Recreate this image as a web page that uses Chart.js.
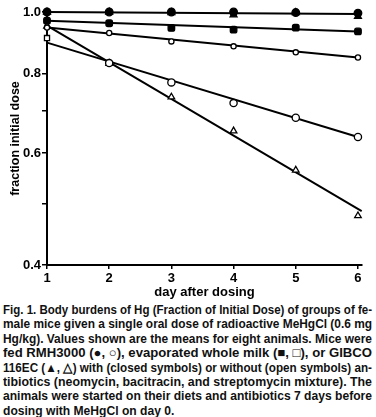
<!DOCTYPE html>
<html>
<head>
<meta charset="utf-8">
<script src="https://cdn.jsdelivr.net/npm/chart.js@4.4.0/dist/chart.umd.min.js"></script>
<style>
  body { margin: 0; background: #fff; width: 376px; height: 417px; overflow: hidden; }
  #wrap { position: relative; width: 376px; height: 300px; }
  #caption {
    position: absolute; left: 3px; top: 303px; width: 369px;
    font: bold 12.5px "Liberation Sans", Arial, sans-serif;
    line-height: 14.4px; color: #111;
  }
  #caption span { display: inline-block; white-space: nowrap; transform-origin: 0 0; }
  #caption div { height: 14.4px; }
</style>
</head>
<body>
<div id="wrap"><canvas id="chart"></canvas></div>
<div id="caption">
  <div><span>Fig. 1. Body burdens of Hg (Fraction of Initial Dose) of groups of fe-</span></div>
  <div><span>male mice given a single oral dose of radioactive MeHgCl (0.6 mg</span></div>
  <div><span>Hg/kg). Values shown are the means for eight animals. Mice were</span></div>
  <div><span>fed RMH3000 (●, ○), evaporated whole milk (■, □), or GIBCO</span></div>
  <div><span>116EC (▲, △) with (closed symbols) or without (open symbols) an-</span></div>
  <div><span>tibiotics (neomycin, bacitracin, and streptomycin mixture). The</span></div>
  <div><span>animals were started on their diets and antibiotics 7 days before</span></div>
  <div><span class="last">dosing with MeHgCl on day 0.</span></div>
</div>
<script>
// days after dosing
const days = [1, 2, 3, 4, 5, 6];

// fraction of initial dose
const rmhAb = [1.0, 1.0, 1.0, 1.0, 0.998, 0.996];       // closed circles
const gibcoAb = [1.0, 1.0, 0.998, 0.99, 0.998, 0.984];  // closed triangles
const milkAb = [0.969, 0.96, 0.944, 0.938, 0.945, 0.932]; // closed squares
const rmhNoAb = [0.945, 0.927, 0.899, 0.883, 0.864, 0.848];
const milkNoAb = [0.91, 0.831, 0.775, 0.719, 0.682, 0.636];
const gibcoNoAb = [0.95, 0.83, 0.735, 0.65, 0.564, 0.478];

// fitted regression lines (end values)
const fitX = [1, 6];
const fitSteepX = [1, 6.06];
const fitTop = [1.0, 0.993];
const fitMid = [0.969, 0.932];
const fitUpper = [0.945, 0.848];
const fitLower = [0.895, 0.636];
const fitSteep = [0.952, 0.486];

// axis ticks
const xTicks = [1, 2, 3, 4, 5, 6];
const yTicks = [0.4, 0.5, 0.6, 0.7, 0.8, 1.0];
const yLabelled = [0.4, 0.6, 0.8, 1.0];

const pts = (ys) => ys.map((y, i) => ({x: days[i], y: y}));
const seg = (xs, ys) => xs.map((x, i) => ({x: x, y: ys[i]}));

const marker = (style, r, filled) => ({
    showLine: false,
    pointStyle: style,
    pointRadius: r,
    pointBorderWidth: 1.3,
    pointBorderColor: '#000',
    pointBackgroundColor: filled ? '#000' : '#fff',
    clip: false
});

const fitLine = (xs, ys) => ({
    data: seg(xs, ys),
    showLine: true,
    borderColor: '#000',
    borderWidth: 2,
    pointRadius: 0,
    clip: false
});

const bold = (size) => ({family: '"Liberation Sans", Arial, sans-serif', weight: 'bold', size: size});

new Chart(document.getElementById('chart'), {
    type: 'scatter',
    data: {
        datasets: [
            Object.assign({data: pts(rmhAb)}, marker('circle', 3.8, true)),
            Object.assign({data: pts(gibcoAb)}, marker('triangle', 4, true)),
            Object.assign({data: pts(milkAb)}, marker('rectRounded', 3.8, true)),
            Object.assign({data: pts(rmhNoAb)}, marker('circle', 2.6, false)),
            Object.assign({data: pts(milkNoAb)}, marker(['rect', 'circle', 'circle', 'circle', 'circle', 'circle'], 3.6, false)),
            Object.assign({data: pts(gibcoNoAb)}, marker('triangle', 3.8, false)),
            fitLine(fitX, fitTop),
            fitLine(fitX, fitMid),
            fitLine(fitX, fitUpper),
            fitLine(fitX, fitLower),
            fitLine(fitSteepX, fitSteep)
        ]
    },
    options: {
        responsive: true,
        maintainAspectRatio: false,
        animation: false,
        layout: {padding: {top: 12, right: 14, left: 0, bottom: 0}},
        plugins: {legend: {display: false}, tooltip: {enabled: false}},
        scales: {
            x: {
                type: 'linear',
                min: 1,
                max: 6.065,
                afterBuildTicks: (s) => { s.ticks = xTicks.map(v => ({value: v})); },
                afterFit: (s) => { s.height = 35; },
                ticks: {color: '#000', font: bold(13), padding: 2, callback: (v) => v},
                grid: {drawOnChartArea: false, drawTicks: true, tickLength: 4, color: '#000', lineWidth: 1.5},
                border: {color: '#000', width: 2},
                title: {display: true, text: 'day after dosing', color: '#000', font: bold(13), padding: {top: 4, bottom: 0}}
            },
            y: {
                type: 'logarithmic',
                min: 0.4,
                max: 1.0,
                afterBuildTicks: (s) => { s.ticks = yTicks.map(v => ({value: v})); },
                afterFit: (s) => { s.width = 47; },
                ticks: {
                    color: '#000', font: bold(13), padding: 1,
                    callback: (v) => yLabelled.includes(v) ? v.toFixed(1) : ''
                },
                grid: {drawOnChartArea: false, drawTicks: true, tickLength: 5, color: '#000', lineWidth: 1.5},
                border: {color: '#000', width: 2},
                title: {display: true, text: 'fraction initial dose', color: '#000', font: bold(12.5), padding: {top: 8, bottom: 0}}
            }
        }
    }
});

// squeeze every caption line to the column width, like the printed justified text
const spans = Array.from(document.querySelectorAll('#caption span'));
const scales = spans.map(s => 369 / s.getBoundingClientRect().width);
spans.forEach((s, i) => {
    let k = scales[i];
    if (s.classList.contains('last')) k = scales[6];
    s.style.transform = 'scaleX(' + k + ')';
});
</script>
</body>
</html>
